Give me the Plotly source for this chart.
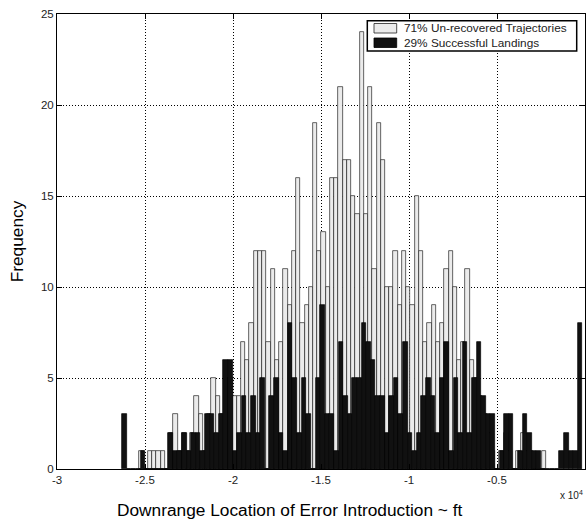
import numpy as np
import plotly.graph_objects as go

# ---- data (x in units of 10^4 ft) ----
# Un-recovered trajectories: histogram bins (start centre, width) and counts
unrec_start = -2.5199
unrec_width = 0.024063
unrec_counts = [1, 0, 1, 1, 1, 1, 0, 2, 3, 1, 2, 1, 2, 4, 3, 1, 3, 5, 4, 3,
                5, 5, 4, 4, 7, 6, 8, 12, 12, 12, 7, 11, 6, 7, 11, 9, 12, 16, 8, 9,
                10, 19, 12, 13, 10, 16, 16, 21, 17, 17, 15, 14, 24, 14, 21, 11, 19, 17, 10, 10,
                12, 9, 12, 10, 9, 15, 12, 7, 8, 9, 7, 8, 11, 12, 10, 6, 7, 11, 6, 5,
                4, 3, 2, 1, 0, 1, 2, 1, 0, 1, 2, 1, 1, 0, 0, 1]

# Successful landings: histogram bins (start centre, width) and counts
succ_start = -2.6165
succ_width = 0.02615
succ_counts = [3, 0, 0, 0, 1, 0, 0, 0, 0, 0, 2, 1, 1, 2, 1, 2, 2, 1, 3, 3,
               2, 3, 6, 6, 1, 2, 4, 2, 4, 2, 5, 0, 4, 5, 2, 1, 8, 5, 2, 5,
               3, 0, 5, 9, 3, 3, 1, 7, 4, 3, 5, 5, 8, 7, 6, 4, 4, 2, 4, 5,
               3, 7, 2, 1, 2, 4, 5, 4, 2, 5, 7, 1, 5, 2, 7, 2, 5, 7, 4, 3,
               3, 0, 1, 3, 3, 0, 1, 3, 2, 1, 1, 0, 0, 0, 0, 1, 2, 1, 1, 8]

x_tickvals = [-3, -2.5, -2, -1.5, -1, -0.5, 0]
x_ticktext = ["-3", "-2.5", "-2", "-1.5", "-1", "-0.5", "0"]
y_tickvals = [0, 5, 10, 15, 20, 25]

legend_labels = ["71% Un-recovered Trajectories", "29% Successful Landings"]
x_title = "Downrange Location of Error Introduction ~ ft"
y_title = "Frequency"

unrec_x = unrec_start + unrec_width * np.arange(len(unrec_counts))
succ_x = succ_start + succ_width * np.arange(len(succ_counts))

FONT = "Liberation Sans, Arial, sans-serif"

fig = go.Figure()
fig.add_trace(go.Bar(x=unrec_x, y=unrec_counts, width=unrec_width,
                     marker=dict(color="#ebebeb", line=dict(color="#222222", width=0.7)),
                     name=legend_labels[0], showlegend=False))
fig.add_trace(go.Bar(x=succ_x, y=succ_counts, width=succ_width,
                     marker=dict(color="#111111", line=dict(color="#000000", width=0.7)),
                     name=legend_labels[1], showlegend=False))

# manual legend (box, swatches, labels)
def px2x(px):
    return (px - 57) / 528.0

def py2y(py):
    return (469 - py) / 455.0

shapes = [
    dict(type="rect", xref="paper", yref="paper", x0=px2x(367.3), x1=px2x(576.7),
         y0=py2y(51), y1=py2y(20.7), line=dict(color="black", width=1.5), fillcolor="white", layer="above"),
    dict(type="rect", xref="paper", yref="paper", x0=px2x(374), x1=px2x(396.7),
         y0=py2y(33), y1=py2y(23.5), line=dict(color="#222222", width=0.8), fillcolor="#ebebeb", layer="above"),
    dict(type="rect", xref="paper", yref="paper", x0=px2x(374), x1=px2x(396.7),
         y0=py2y(47.5), y1=py2y(38), line=dict(color="black", width=0.8), fillcolor="#111111", layer="above"),
]
annotations = [
    dict(xref="paper", yref="paper", x=px2x(402), y=py2y(28.3), xanchor="left", yanchor="middle",
         text=legend_labels[0], showarrow=False, font=dict(family=FONT, size=11.8, color="#222222")),
    dict(xref="paper", yref="paper", x=px2x(402), y=py2y(42.7), xanchor="left", yanchor="middle",
         text=legend_labels[1], showarrow=False, font=dict(family=FONT, size=11.8, color="#222222")),
    dict(xref="paper", yref="paper", x=1.0, y=py2y(495), xanchor="right", yanchor="middle",
         text="x 10<sup>4</sup>", showarrow=False, font=dict(family=FONT, size=10, color="#222222")),
    dict(xref="paper", yref="paper", x=px2x(290), y=py2y(510), xanchor="center", yanchor="middle",
         text=x_title, showarrow=False, font=dict(family=FONT, size=17.3, color="black")),
]

fig.update_layout(
    width=587, height=523,
    margin=dict(l=57, r=2, t=14, b=54),
    paper_bgcolor="white", plot_bgcolor="white",
    barmode="overlay", bargap=0,
    font=dict(family=FONT, color="#222222"),
    shapes=shapes, annotations=annotations,
    showlegend=False,
)
fig.update_xaxes(range=[-3, 0], tickvals=x_tickvals, ticktext=x_ticktext,
                 showline=True, linecolor="black", linewidth=1, mirror="ticks",
                 ticks="inside", ticklen=5, tickcolor="black",
                 showgrid=True, gridcolor="black", griddash="1px,2px", gridwidth=1,
                 zeroline=False, tickfont=dict(size=11.5))
fig.update_yaxes(range=[0, 25], tickvals=y_tickvals,
                 showline=True, linecolor="black", linewidth=1, mirror="ticks",
                 ticks="inside", ticklen=5, tickcolor="black",
                 showgrid=True, gridcolor="black", griddash="1px,2px", gridwidth=1,
                 zeroline=False, tickfont=dict(size=11.5),
                 title=dict(text=y_title, font=dict(size=17.3, color="black"), standoff=12))

fig.write_html("out.html")
